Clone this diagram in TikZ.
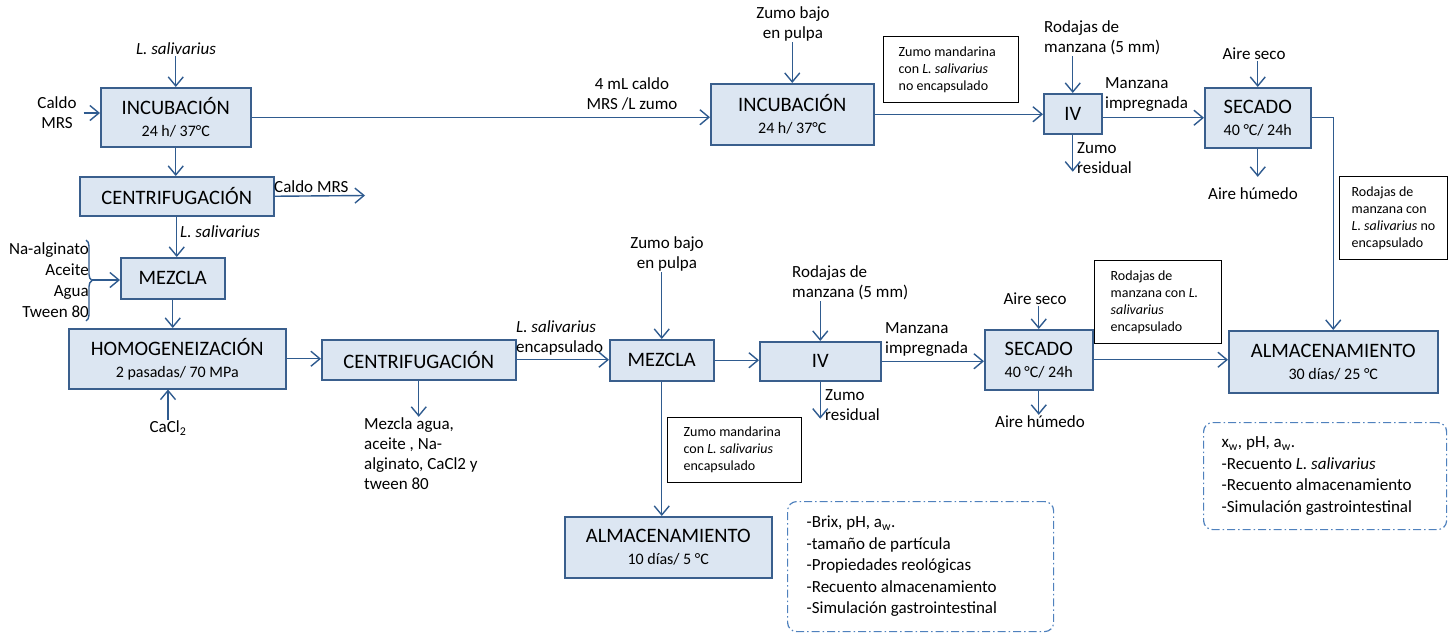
\documentclass[tikz,border=0pt]{standalone}
\usepackage{fontspec}
\setmainfont{Carlito}
\usetikzlibrary{arrows.meta,decorations.pathreplacing}

\definecolor{procfill}{HTML}{DCE6F2}
\definecolor{procline}{HTML}{3A5F8D}
\definecolor{flowblue}{HTML}{2F5B8F}
\definecolor{checkblue}{HTML}{4F81BD}

\newcommand{\stepfont}{\fontsize{20.5}{22}\selectfont}
\newcommand{\condfont}{\fontsize{16}{22}\selectfont}
\newcommand{\lblfont}{\fontsize{17}{20}\selectfont}
\newcommand{\notefont}{\fontsize{14}{17}\selectfont}
\newcommand{\checkfont}{\fontsize{17}{21.5}\selectfont}
\newcommand{\lsal}{\textit{L. salivarius}}

\begin{document}
\begin{tikzpicture}[x=1pt, y=-1pt,
    proc/.style={draw=procline, line width=1.5pt, fill=procfill, anchor=north west, align=center, font=\condfont, inner sep=0pt},
    note/.style={draw, line width=1.3pt, fill=white, anchor=north west, align=flush left, font=\notefont, inner ysep=0pt},
    check/.style={draw=checkblue, line width=1.2pt, rounded corners=9pt, dash pattern=on 8pt off 3pt on 1.5pt off 3pt, anchor=north west, align=flush left, font=\checkfont, inner ysep=0pt},
    lbl/.style={font=\lblfont, inner sep=1pt},
    flow/.style={draw=flowblue, line width=1.4pt, -{Straight Barb[length=9pt,width=15pt]}},
    link/.style={draw=flowblue, line width=1.4pt}
  ]
  \useasboundingbox (0,0) rectangle (1448,632);

  % Free cells: incubation and separation
  \node[proc, minimum width=150pt, minimum height=59pt] at (100,87) (inc1) {{\stepfont INCUBACIÓN}\\24 h/ 37°C};
  \node[lbl] at (176,49) (lsalA) {\lsal};
  \node[lbl, align=center] at (57,113) (caldoA) {Caldo\\MRS};
  \coordinate (caldoAin) at ([xshift=6pt]caldoA.east);
  \draw[flow] (inc1.north |- lsalA.south) -- (inc1.north);
  \draw[flow] (caldoAin) -- (caldoAin -| inc1.west);

  \node[proc, minimum width=194pt, minimum height=39pt] at (79,176) (cent1) {\stepfont CENTRIFUGACIÓN};
  \draw[flow] (inc1.south) -- (inc1.south |- cent1.north);
  \node[lbl, anchor=west] at (273,187) (caldoB) {Caldo MRS};
  \coordinate (caldoBend) at (365,195.5);
  \draw[flow] (cent1.east) -- (caldoBend);

  % Encapsulation
  \node[proc, minimum width=104pt, minimum height=41pt] at (120,257) (mez1) {\stepfont MEZCLA};
  \node[lbl, anchor=west] at (179,232) (lsalB) {\lsal};
  \draw[flow] (cent1.south) -- (cent1.south |- mez1.north);
  \node[lbl, align=right, anchor=east, font=\fontsize{17}{21}\selectfont] at (90,280) (ingr) {Na-alginato\\Aceite\\Agua\\Tween 80};
  \draw[link, decorate, decoration={brace, amplitude=6pt}] (86,240) -- (86,321);
  \coordinate (bracetip) at (92,280);
  \draw[flow] (bracetip) -- (bracetip -| mez1.west);

  \node[proc, minimum width=217pt, minimum height=60pt] at (68,328) (hom) {{\stepfont HOMOGENEIZACIÓN}\\2 pasadas/ 70 MPa};
  \draw[flow] (mez1.south) -- (mez1.south |- hom.north);
  \node[lbl] at (168,428) (cacl) {CaCl\textsubscript{2}};
  \draw[flow] (cacl.north) -- (cacl.north |- hom.south);

  \node[proc, minimum width=194pt, minimum height=40pt] at (321,339) (cent2) {\stepfont CENTRIFUGACIÓN};
  \draw[flow] (hom.east) -- (hom.east -| cent2.west);
  \node[lbl, align=left, anchor=west] at (363,454) (mezB) {Mezcla agua,\\aceite , Na-\\alginato, CaCl2 y\\tween 80};
  \draw[flow] (cent2.south) -- (cent2.south |- mezB.north);

  % Encapsulated juice
  \node[proc, minimum width=104pt, minimum height=41pt] at (609,339) (mez2) {\stepfont MEZCLA};
  \node[lbl, align=left, anchor=west] at (515,338) (lsalC) {\lsal\\encapsulado};
  \draw[flow] (cent2.east) -- (cent2.east -| mez2.west);
  \node[lbl, align=center] at (667,254) (zumoB) {Zumo bajo\\en pulpa};
  \draw[flow] (mez2.north |- zumoB.south) -- (mez2.north);

  \node[proc, minimum width=207pt, minimum height=61pt] at (564,516) (alm1) {{\stepfont ALMACENAMIENTO}\\10 días/ 5 °C};
  \draw[flow] (mez2.south) -- (mez2.south |- alm1.north);
  \node[note, text width=102pt, inner xsep=16pt, minimum height=65pt] at (667,417) (notaC) {Zumo mandarina\\con \lsal\\encapsulado};

  % Impregnation and drying (encapsulated)
  \node[proc, minimum width=121pt, minimum height=39pt] at (759,341) (iv2) {\stepfont IV};
  \draw[flow] (mez2.east) -- (mez2.east -| iv2.west);
  \node[lbl, align=left, anchor=west] at (791,283) (rodB) {Rodajas de\\manzana (5 mm)};
  \draw[flow] (iv2.north |- rodB.south) -- (iv2.north);
  \node[lbl, align=left, anchor=west] at (824,405) (zresB) {Zumo\\residual};
  \draw[flow] (iv2.south) -- ([yshift=3pt]iv2.south |- zresB.south);

  \node[proc, minimum width=108pt, minimum height=60pt] at (984,329) (sec2) {{\stepfont SECADO}\\40 °C/ 24h};
  \node[lbl, align=left, anchor=west] at (884,340) (manzB) {Manzana\\impregnada};
  \draw[flow] (iv2.east) -- (iv2.east -| sec2.west);
  \node[lbl] at (1035,299) (aireB) {Aire seco};
  \draw[flow] (sec2.north |- aireB.south) -- (sec2.north);
  \node[lbl] at (1040,422) (humB) {Aire húmedo};
  \draw[flow] (sec2.south) -- (sec2.south |- humB.north);

  \node[note, text width=95pt, inner xsep=16pt, minimum height=83pt] at (1094,260) (notaD) {Rodajas de\\manzana con \textit{L.}\\\textit{salivarius}\\encapsulado};

  \node[proc, minimum width=209pt, minimum height=62pt] at (1228,330) (alm2) {{\stepfont ALMACENAMIENTO}\\30 días/ 25 °C};
  \draw[flow] (sec2.east) -- (sec2.east -| alm2.west);

  % Free cells in juice and apple
  \node[proc, minimum width=163pt, minimum height=61pt] at (710,83) (inc2) {{\stepfont INCUBACIÓN}\\24 h/ 37°C};
  \draw[flow] (inc1.east) -- (inc1.east -| inc2.west);
  \node[lbl, align=center] at (632,94) (dosis) {4 mL caldo\\MRS /L zumo};
  \node[lbl, align=center] at (793,24) (zumoA) {Zumo bajo\\en pulpa};
  \draw[flow] (inc2.north |- zumoA.south) -- (inc2.north);
  \node[note, text width=105pt, inner xsep=15pt, minimum height=66pt] at (883,36) (notaA) {Zumo mandarina\\con \lsal\\no encapsulado};

  \node[proc, minimum width=58pt, minimum height=40pt] at (1043,93) (iv1) {\stepfont IV};
  \draw[flow] (inc2.east) -- (inc2.east -| iv1.west);
  \node[lbl, align=left, anchor=west] at (1043,38) (rodA) {Rodajas de\\manzana (5 mm)};
  \draw[flow] (iv1.north |- rodA.south) -- (iv1.north);
  \node[lbl, align=left, anchor=west] at (1076,158) (zresA) {Zumo\\residual};
  \draw[flow] (iv1.south) -- ([yshift=3pt]iv1.south |- zresA.south);

  \node[proc, minimum width=106pt, minimum height=60pt] at (1204,87) (sec1) {{\stepfont SECADO}\\40 °C/ 24h};
  \node[lbl, align=left, anchor=west] at (1104,95) (manzA) {Manzana\\impregnada};
  \draw[flow] (sec1.west -| iv1.east) -- (sec1.west);
  \node[lbl] at (1254,54) (aireA) {Aire seco};
  \draw[flow] (sec1.north |- aireA.south) -- (sec1.north);
  \node[lbl] at (1253,194) (humA) {Aire húmedo};
  \draw[flow] (sec1.south) -- ([yshift=10pt]sec1.south |- humA.north);
  \draw[flow] (sec1.east) -| (alm2.north);
  \node[note, text width=84pt, inner xsep=12pt, minimum height=83pt] at (1339,176) (notaB) {Rodajas de\\manzana con\\\mbox{\lsal{} no}\\encapsulado};

  % Analyses
  \node[check, text width=228pt, inner xsep=19pt, minimum height=130pt] at (787,501) (chkA) {-Brix, pH, a\textsubscript{w}.\\-tamaño de partícula\\-Propiedades reológicas\\-Recuento almacenamiento\\-Simulación gastrointestinal};
  \node[check, text width=207pt, inner xsep=18pt, minimum height=107pt] at (1203,422) (chkB) {x\textsubscript{w}, pH, a\textsubscript{w}.\\-Recuento \lsal\\-Recuento almacenamiento\\-Simulación gastrointestinal};
\end{tikzpicture}
\end{document}
